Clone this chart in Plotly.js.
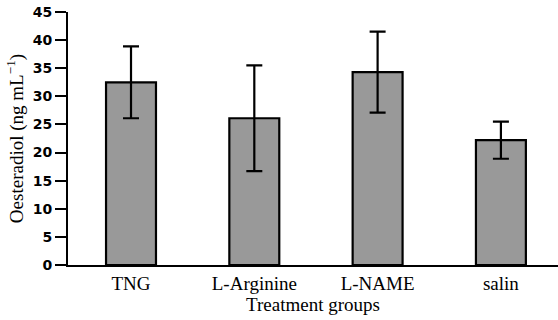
<!DOCTYPE html>
<html>
<head>
<meta charset="utf-8">
<script src="https://cdn.plot.ly/plotly-3.0.1.min.js"></script>
<style>html,body{margin:0;padding:0;background:#fff;}#chart{width:558px;height:320px;}</style>
</head>
<body>
<div id="chart"></div>
<script>
const categories = ["TNG", "L-Arginine", "L-NAME", "salin"];
const means = [32.5, 26.1, 34.3, 22.2];
const errors = [6.4, 9.4, 7.2, 3.3];
const yTicks = [0, 5, 10, 15, 20, 25, 30, 35, 40, 45];

const trace = {
  type: "bar",
  x: categories,
  y: means,
  width: 0.405,
  marker: {color: "#999999", line: {color: "#000000", width: 2.2}},
  error_y: {type: "data", array: errors, visible: true, color: "#000000", thickness: 2.2, width: 8}
};

const layout = {
  width: 558, height: 320,
  margin: {l: 68, r: 0, t: 12, b: 55, pad: 0},
  paper_bgcolor: "#ffffff", plot_bgcolor: "#ffffff",
  showlegend: false,
  xaxis: {
    type: "category",
    range: [-0.511, 3.463],
    showline: true, linecolor: "#000", linewidth: 2,
    ticks: "", showgrid: false, zeroline: false,
    tickfont: {family: "Liberation Serif", size: 19, color: "#000"},
    title: {text: "Treatment groups", font: {family: "Liberation Serif", size: 19, color: "#000"}, standoff: 4},
    automargin: false
  },
  yaxis: {
    range: [0, 45],
    tickvals: yTicks,
    ticktext: yTicks.map(String),
    showline: true, linecolor: "#000", linewidth: 2,
    ticks: "outside", ticklen: 11, tickwidth: 2, tickcolor: "#000",
    showgrid: false, zeroline: false,
    tickfont: {family: "DejaVu Sans", size: 14, color: "#000000", weight: 700},
    title: {text: "Oesteradiol (ng mL<sup>−1</sup>)", font: {family: "Liberation Serif", size: 19, color: "#000"}, standoff: 4},
    automargin: false
  }
};

Plotly.newPlot("chart", [trace], layout, {displayModeBar: false, staticPlot: true});
</script>
</body>
</html>
